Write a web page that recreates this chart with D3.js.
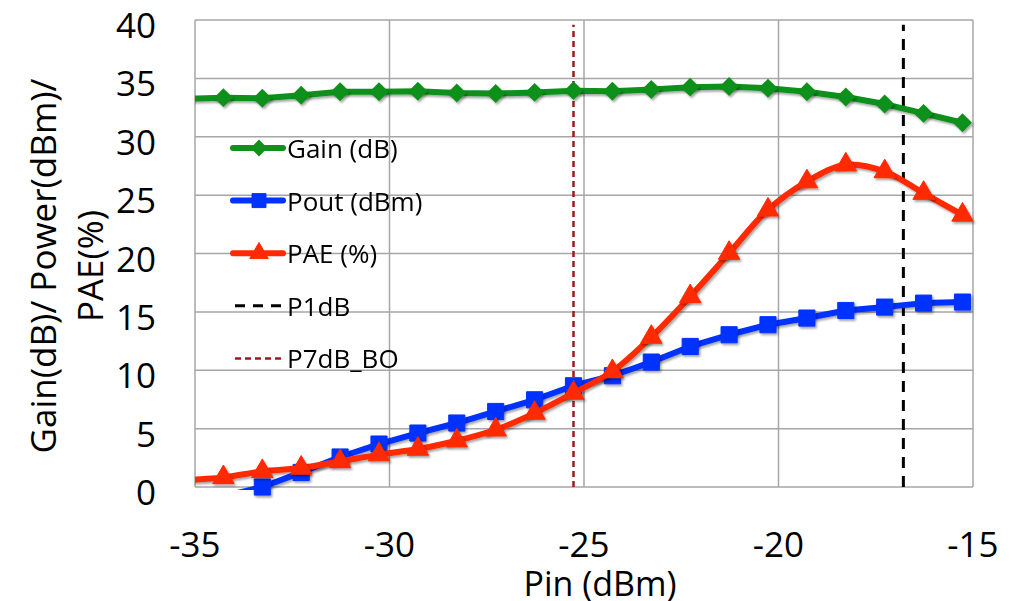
<!DOCTYPE html>
<html>
<head>
<meta charset="utf-8">
<script src="https://cdn.jsdelivr.net/npm/d3@7"></script>
<style>
  body { margin: 0; background: #fff; }
  svg text { font-family: 'Open Sans', 'Noto Sans', sans-serif; fill: #000; }
</style>
</head>
<body>
<div id="root"></div>
<script>
const pin = [-35.27, -34.27, -33.27, -32.27, -31.27, -30.27, -29.27, -28.27, -27.27, -26.27, -25.27,
             -24.27, -23.27, -22.27, -21.27, -20.27, -19.27, -18.27, -17.27, -16.27, -15.27]
const gain = [33.25, 33.35, 33.3, 33.55, 33.85, 33.85, 33.9, 33.75, 33.7, 33.8, 33.95,
              33.9, 34.05, 34.25, 34.3, 34.15, 33.85, 33.4, 32.8, 32.0, 31.2]
const pout = [-2.0, -0.8, 0.0, 1.25, 2.57, 3.68, 4.62, 5.48, 6.47, 7.47, 8.67,
              9.53, 10.7, 12.04, 13.04, 13.9, 14.47, 15.12, 15.41, 15.75, 15.84]
const pae = [0.6, 0.82, 1.34, 1.63, 2.19, 2.77, 3.25, 3.96, 4.9, 6.33, 8.05,
             9.9, 12.84, 16.32, 20.03, 23.74, 26.16, 27.6, 27.02, 25.17, 23.3]
const p1dB = -16.79
const p7dBBO = -25.27
const markerTop = 39.6
const xTicks = [-35, -30, -25, -20, -15]
const yTicks = [0, 5, 10, 15, 20, 25, 30, 35, 40]
const legendLabels = ['Gain (dB)', 'Pout (dBm)', 'PAE (%)', 'P1dB', 'P7dB_BO']

const width = 1016
const height = 601
const plotLeft = 195, plotTop = 20, plotRight = 973, plotBottom = 487

const x = d3.scaleLinear().domain([-35, -15]).range([plotLeft, plotRight])
const y = d3.scaleLinear().domain([0, 40]).range([plotBottom, plotTop])

const svg = d3.select('#root').append('svg')
  .attr('width', width)
  .attr('height', height)

const defs = svg.append('defs')
defs.append('clipPath').attr('id', 'plot')
  .append('rect')
  .attr('x', plotLeft).attr('y', plotTop)
  .attr('width', plotRight - plotLeft).attr('height', plotBottom - plotTop + 3)
const shadow = defs.append('filter').attr('id', 'shadow')
  .attr('x', '-20%').attr('y', '-20%').attr('width', '140%').attr('height', '140%')
shadow.append('feDropShadow')
  .attr('dx', 1.5).attr('dy', 2).attr('stdDeviation', 1.2)
  .attr('flood-color', '#000').attr('flood-opacity', 0.35)

// grid
svg.append('g').selectAll('line')
  .data(yTicks)
  .enter().append('line')
  .attr('x1', plotLeft).attr('x2', plotRight)
  .attr('y1', d => y(d)).attr('y2', d => y(d))
  .attr('stroke', '#a6a6a6').attr('stroke-width', 1.5)
svg.append('g').selectAll('line')
  .data(xTicks)
  .enter().append('line')
  .attr('y1', plotTop).attr('y2', plotBottom)
  .attr('x1', d => x(d)).attr('x2', d => x(d))
  .attr('stroke', '#a6a6a6').attr('stroke-width', 1.5)

// tick labels
svg.append('g').selectAll('text')
  .data(yTicks)
  .enter().append('text')
  .attr('x', 156)
  .attr('y', d => y(d) + 18)
  .attr('text-anchor', 'end')
  .style('font-size', '35px')
  .text(d => d)
svg.append('g').selectAll('text')
  .data(xTicks)
  .enter().append('text')
  .attr('x', d => x(d))
  .attr('y', 557)
  .attr('text-anchor', 'middle')
  .style('font-size', '35px')
  .text(d => d)

// axis titles
svg.append('text')
  .attr('x', 600).attr('y', 596)
  .attr('text-anchor', 'middle')
  .style('font-size', '34px')
  .text('Pin (dBm)')
const yTitle = svg.append('text')
  .attr('transform', 'translate(0,266) rotate(-90)')
  .attr('text-anchor', 'middle')
  .style('font-size', '35px')
yTitle.append('tspan').attr('x', 0).attr('y', 56).text('Gain(dB)/ Power(dBm)/')
yTitle.append('tspan').attr('x', 0).attr('y', 103).text('PAE(%)')

// vertical reference lines
svg.append('line')
  .attr('x1', x(p7dBBO)).attr('x2', x(p7dBBO))
  .attr('y1', y(0)).attr('y2', y(markerTop))
  .attr('stroke', '#9b1c1c').attr('stroke-width', 2.5)
  .attr('stroke-dasharray', '6,4')
svg.append('line')
  .attr('x1', x(p1dB)).attr('x2', x(p1dB))
  .attr('y1', y(0)).attr('y2', y(markerTop))
  .attr('stroke', '#000').attr('stroke-width', 3)
  .attr('stroke-dasharray', '11,8')

const series = [
  { values: gain, color: '#11901a', symbol: d3.symbolDiamond2, size: 165, sw: 2, curve: d3.curveLinear },
  { values: pout, color: '#0033ff', symbol: d3.symbolSquare, size: 260, sw: 1, curve: d3.curveLinear },
  { values: pae, color: '#ff2a00', symbol: d3.symbolTriangle, size: 200, sw: 1, curve: d3.curveCatmullRom }
]

series.forEach(s => {
  const pts = pin.map((p, i) => [p, s.values[i]])
  const line = d3.line().x(d => x(d[0])).y(d => y(d[1])).curve(s.curve)
  svg.append('path')
    .attr('clip-path', 'url(#plot)')
    .attr('d', line(pts))
    .attr('fill', 'none')
    .attr('stroke', s.color)
    .attr('stroke-width', 6)
    .attr('stroke-linejoin', 'round')
    .attr('filter', 'url(#shadow)')
  svg.append('g').attr('filter', 'url(#shadow)')
    .selectAll('path')
    .data(pts.filter(d => d[0] >= -35 && d[1] >= 0))
    .enter().append('path')
    .attr('transform', d => 'translate(' + x(d[0]) + ',' + y(d[1]) + ')')
    .attr('d', d3.symbol().type(s.symbol).size(s.size))
    .attr('fill', s.color)
    .attr('stroke', s.color)
    .attr('stroke-width', s.sw)
})

// legend
const legend = svg.append('g')
const rowY = i => 148 + i * 52.6
series.forEach((s, i) => {
  legend.append('line')
    .attr('x1', 233).attr('x2', 283)
    .attr('y1', rowY(i)).attr('y2', rowY(i))
    .attr('stroke', s.color).attr('stroke-width', 6).attr('stroke-linecap', 'round')
  legend.append('path')
    .attr('transform', 'translate(259,' + rowY(i) + ')')
    .attr('d', d3.symbol().type(s.symbol).size(s.size * 0.75))
    .attr('fill', s.color)
    .attr('stroke', s.color)
    .attr('stroke-width', s.sw)
})
legend.append('line')
  .attr('x1', 235).attr('x2', 282)
  .attr('y1', rowY(3)).attr('y2', rowY(3))
  .attr('stroke', '#000').attr('stroke-width', 3)
  .attr('stroke-dasharray', '10,8')
legend.append('line')
  .attr('x1', 235).attr('x2', 282)
  .attr('y1', rowY(4)).attr('y2', rowY(4))
  .attr('stroke', '#9b1c1c').attr('stroke-width', 2.5)
  .attr('stroke-dasharray', '6,4')
legend.selectAll('text')
  .data(legendLabels)
  .enter().append('text')
  .attr('x', 287)
  .attr('y', (d, i) => rowY(i) + 10)
  .style('font-size', '26px')
  .text(d => d)
</script>
</body>
</html>
